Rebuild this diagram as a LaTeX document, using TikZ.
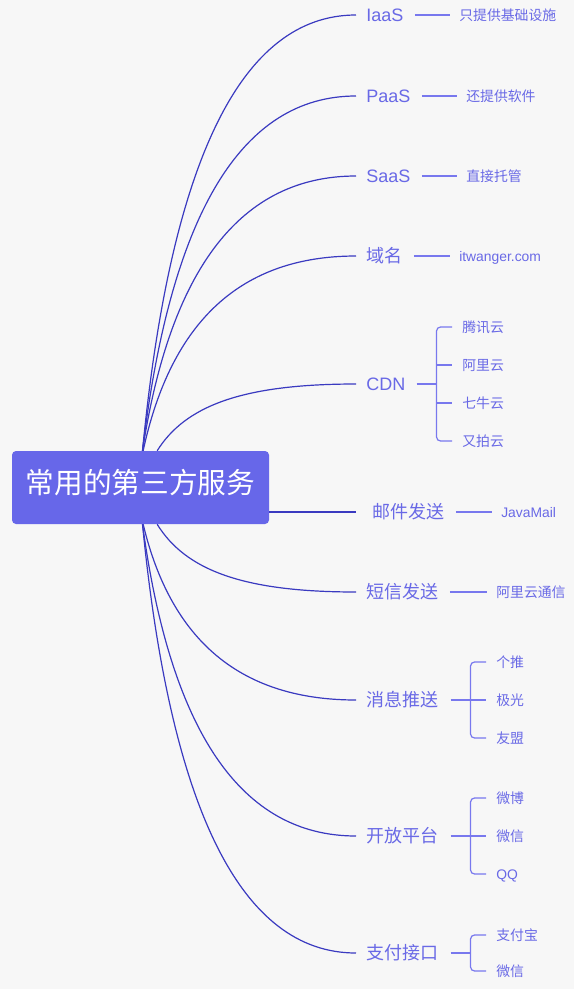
\documentclass[tikz,border=0pt]{standalone}
\usepackage{fontspec}
\setmainfont{Noto Sans CJK SC}
\newfontfamily\latinfont{Liberation Sans}
\usepackage{xcolor}
\usetikzlibrary{calc}
\definecolor{rootfill}{HTML}{6767E9}
\definecolor{trunkblue}{HTML}{3A3AC0}
\definecolor{topictext}{HTML}{6969E6}
\definecolor{leafblue}{HTML}{7878EE}
\definecolor{paper}{HTML}{F7F7F7}
\tikzset{
  trunk line/.style={draw=trunkblue, line width=0.9pt},
  leaf line/.style={draw=leafblue, line width=0.9pt}
}

\begin{document}
\begin{tikzpicture}[x=0.75pt, y=-0.75pt,
    root node/.style={rectangle, rounded corners=3pt, fill=rootfill, text=white,
      minimum width=192.75pt, minimum height=54.75pt, inner sep=0pt,
      text height=0.95em, text depth=0.05em, font=\fontsize{21.5}{24}\selectfont},
    topic node/.style={anchor=west, inner sep=0pt, text=topictext,
      text height=1em, text depth=0.02em, font=\fontsize{13.5}{16}\selectfont},
    leaf node/.style={anchor=west, inner sep=0pt, text=topictext,
      text height=0.86em, text depth=0.04em, font=\fontsize{10.4}{12}\selectfont} ]
    \path[use as bounding box, fill=paper] (0,0) rectangle (574,989);
    \node [root node] (root) at (140.5,487.5) {常用的第三方服务};
    % topics
    \node [topic node] (iaas) at (366,15) {\latinfont IaaS};
    \node [topic node] (paas) at (366,96) {\latinfont PaaS};
    \node [topic node] (saas) at (366,176) {\latinfont SaaS};
    \node [topic node] (domain) at (366,256) {域名};
    \node [topic node] (cdn) at (366,384) {\latinfont CDN};
    \node [topic node] (mail) at (372,512) {邮件发送};
    \node [topic node] (sms) at (366,592) {短信发送};
    \node [topic node] (push) at (366,700) {消息推送};
    \node [topic node] (open) at (366,836) {开放平台};
    \node [topic node] (pay) at (366,953) {支付接口};
    % leaves
    \node [leaf node] (iaasdesc) at (459,15) {只提供基础设施};
    \node [leaf node] (paasdesc) at (466,96) {还提供软件};
    \node [leaf node] (saasdesc) at (466,176) {直接托管};
    \node [leaf node] (domaindesc) at (459,256) {\latinfont itwanger.com};
    \node [leaf node] (tencent) at (462,327) {腾讯云};
    \node [leaf node] (aliyun) at (462,365) {阿里云};
    \node [leaf node] (qiniu) at (462,403) {七牛云};
    \node [leaf node] (upyun) at (462,441) {又拍云};
    \node [leaf node] (javamail) at (501,512) {\latinfont JavaMail};
    \node [leaf node] (alisms) at (496,592) {阿里云通信};
    \node [leaf node] (getui) at (496,662) {个推};
    \node [leaf node] (jiguang) at (496,700) {极光};
    \node [leaf node] (umeng) at (496,738) {友盟};
    \node [leaf node] (weibo) at (496,798) {微博};
    \node [leaf node] (wechat) at (496,836) {微信};
    \node [leaf node] (qq) at (496,874) {\latinfont QQ};
    \node [leaf node] (alipay) at (496,935) {支付宝};
    \node [leaf node] (wxpay) at (496,971) {微信};
    % curves out of the root
    \foreach \nm/\dx in {iaas/1.5pt, paas/1.5pt, saas/1.5pt, domain/2pt, cdn/12.5pt}
      \draw [trunk line] let \p1=([xshift=\dx]root.north), \p2=([xshift=-7.5pt]\nm.west) in
        (\p1) .. controls (\x1+21pt,{\y1+(\y2-\y1)*2/3}) and (\x2-86pt,\y2) .. (\p2);
    \foreach \nm/\dx in {sms/12.5pt, push/2pt, open/1.5pt, pay/1.5pt}
      \draw [trunk line] let \p1=([xshift=\dx]root.south), \p2=([xshift=-7.5pt]\nm.west) in
        (\p1) .. controls (\x1+21pt,{\y1+(\y2-\y1)*2/3}) and (\x2-86pt,\y2) .. (\p2);
    \draw [trunk line] (mail.west -| root.east) -- ([xshift=-12pt]mail.west);
    % single leaves
    \foreach \a/\b in {iaas/iaasdesc, paas/paasdesc, saas/saasdesc, domain/domaindesc,
        mail/javamail, sms/alisms}
      \draw [leaf line] ([xshift=8.5pt]\a.east) -- ([xshift=-6.75pt]\b.west);
    % brackets
    \coordinate (cdnfork) at ([xshift=23.25pt]cdn.east);
    \draw [leaf line] ([xshift=8.25pt]cdn.east) -- (cdnfork);
    \draw [leaf line, rounded corners=3pt] ([xshift=-7.5pt]tencent.west) -| (cdnfork) |- ([xshift=-7.5pt]upyun.west);
    \foreach \l in {aliyun, qiniu}
      \draw [leaf line] (cdnfork |- \l.west) -- ([xshift=-7.5pt]\l.west);
    \coordinate (pushfork) at ([xshift=24pt]push.east);
    \draw [leaf line] ([xshift=9pt]push.east) -- (pushfork);
    \draw [leaf line, rounded corners=3pt] ([xshift=-7.5pt]getui.west) -| (pushfork) |- ([xshift=-7.5pt]umeng.west);
    \draw [leaf line] (pushfork) -- ([xshift=-7.5pt]jiguang.west);
    \coordinate (openfork) at ([xshift=24pt]open.east);
    \draw [leaf line] ([xshift=9pt]open.east) -- (openfork);
    \draw [leaf line, rounded corners=3pt] ([xshift=-7.5pt]weibo.west) -| (openfork) |- ([xshift=-7.5pt]qq.west);
    \draw [leaf line] (openfork) -- ([xshift=-7.5pt]wechat.west);
    \coordinate (payfork) at ([xshift=24pt]pay.east);
    \draw [leaf line] ([xshift=9pt]pay.east) -- (payfork);
    \draw [leaf line, rounded corners=3pt] ([xshift=-7.5pt]alipay.west) -| (payfork) |- ([xshift=-7.5pt]wxpay.west);
\end{tikzpicture}
\end{document}
